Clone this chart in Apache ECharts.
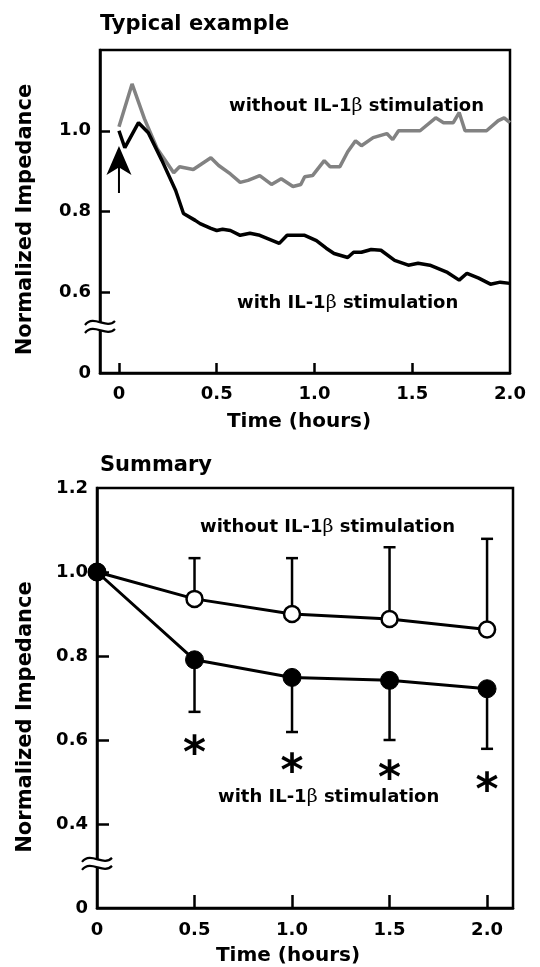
<!DOCTYPE html>
<html><head><meta charset="utf-8">
<script src="https://cdn.jsdelivr.net/npm/echarts@6/dist/echarts.min.js"></script>
<style>html,body{margin:0;padding:0;background:#fff}#c{width:540px;height:967px}</style>
</head><body><div id="c"></div>
<script>
// ---- Typical example (top panel) ----
const typTimeWithout = [0,0.067,0.13,0.195,0.28,0.31,0.38,0.47,0.51,0.57,0.62,0.66,0.72,0.78,0.83,0.89,0.93,0.95,0.99,1.05,1.08,1.13,1.17,1.21,1.24,1.30,1.37,1.40,1.43,1.54,1.62,1.66,1.71,1.74,1.77,1.88,1.94,1.97,2.0];
const typWithout = [1.01,1.116,1.03,0.956,0.896,0.911,0.904,0.933,0.914,0.893,0.872,0.877,0.889,0.867,0.881,0.862,0.867,0.886,0.889,0.926,0.911,0.911,0.948,0.975,0.963,0.983,0.993,0.978,1.0,1.0,1.032,1.02,1.02,1.045,1.0,1.0,1.025,1.032,1.02];
const typTimeWith = [0,0.03,0.10,0.15,0.22,0.29,0.33,0.39,0.415,0.47,0.50,0.53,0.57,0.62,0.67,0.72,0.77,0.82,0.86,0.95,1.01,1.06,1.10,1.17,1.20,1.24,1.29,1.34,1.41,1.48,1.53,1.59,1.68,1.74,1.78,1.84,1.90,1.95,2.0];
const typWith = [1.0,0.958,1.02,0.995,0.926,0.852,0.795,0.778,0.77,0.758,0.753,0.756,0.753,0.741,0.746,0.741,0.731,0.721,0.741,0.741,0.728,0.709,0.696,0.686,0.699,0.699,0.706,0.704,0.679,0.667,0.672,0.667,0.649,0.630,0.647,0.635,0.620,0.625,0.622];
const stimTime = [0];        // IL-1beta added (arrow)
const stimArrowPos = [0.904];

// ---- Summary (bottom panel) ----
const sumTime = [0,0.5,1.0,1.5,2.0];
const sumWithout = [1.0,0.936,0.900,0.888,0.863];
const sumWithoutErr = [0,0.097,0.133,0.171,0.216];
const sumWith = [1.0,0.791,0.749,0.742,0.722];
const sumWithErr = [0,0.124,0.130,0.142,0.143];
const sigTime = [0.5,1.0,1.5,2.0];
const sigPos = [0.591,0.548,0.532,0.503];

// ---- tick labels ----
const xTickVals = [0,0.5,1.0,1.5,2.0];
const topXTicks = [0,0.5,1.0,1.5];
const sumXTicks = [0.5,1.0,1.5,2.0];
const topYTickVals = [0.4,0.6,0.8,1.0];   // 0.4 position labelled "0" (broken axis)
const topYTicks = [0.6,0.8,1.0];
const sumYTickVals = [0.2,0.4,0.6,0.8,1.0,1.2]; // 0.2 position labelled "0" (broken axis)
const sumYTicks = [0.4,0.6,0.8,1.0];

const F = '"DejaVu Sans", sans-serif';
const zip = (a,b) => a.map((v,i)=>[v,b[i]]);
const xFmt = v => Math.abs(v) < 1e-9 ? '0' : v.toFixed(1);
const labelStyle = {color:'#000', fontFamily:F, fontWeight:'bold', fontSize:18};
const axLine = {show:true, onZero:false, lineStyle:{color:'#000', width:2.5}};
const tickLine = {color:'#000', width:2.5};

const chart = echarts.init(document.getElementById('c'), null, {renderer:'canvas'});

function errItem(params, api){
  const x = api.value(0), m = api.value(1), e = api.value(2), d = api.value(3);
  if (!(e > 0)) return;
  const p0 = api.coord([x, m]);
  const p1 = api.coord([x, m + d*e]);
  return {type:'group', children:[
    {type:'line', shape:{x1:p0[0],y1:p0[1],x2:p1[0],y2:p1[1]}, style:{stroke:'#000', lineWidth:2.5}},
    {type:'line', shape:{x1:p1[0]-6,y1:p1[1],x2:p1[0]+6,y2:p1[1]}, style:{stroke:'#000', lineWidth:2.5}}
  ]};
}
const errData = sumTime.map((t,i)=>[t,sumWithout[i],sumWithoutErr[i],1])
  .concat(sumTime.map((t,i)=>[t,sumWith[i],sumWithErr[i],-1]));

const yNameStyle = {color:'#000', fontFamily:F, fontWeight:'bold', fontSize:21};
const xNameStyle = {color:'#000', fontFamily:F, fontWeight:'bold', fontSize:20};

chart.setOption({
  animation:false,
  backgroundColor:'#fff',
  grid:[
    {left:100, top:50, width:410, height:323, show:true, borderColor:'#000', borderWidth:2.5, backgroundColor:'transparent'},
    {left:97, top:488, width:416, height:422, show:true, borderColor:'#000', borderWidth:2.5, backgroundColor:'transparent'}
  ],
  xAxis:[
    {type:'value', gridIndex:0, min:-0.097, max:2.0, splitLine:{show:false}, axisLine:axLine,
     axisTick:{show:true, inside:true, length:10, customValues:topXTicks, lineStyle:tickLine},
     axisLabel:Object.assign({customValues:xTickVals, formatter:xFmt, margin:12}, labelStyle),
     name:'Time (hours)', nameLocation:'middle', nameGap:39, nameTextStyle:Object.assign({padding:[0,12,0,0]}, xNameStyle)},
    {type:'value', gridIndex:1, min:0, max:2.133, splitLine:{show:false}, axisLine:axLine,
     axisTick:{show:true, inside:true, length:13, customValues:sumXTicks, lineStyle:tickLine},
     axisLabel:Object.assign({customValues:xTickVals, formatter:xFmt, margin:13}, labelStyle),
     name:'Time (hours)', nameLocation:'middle', nameGap:38, nameTextStyle:Object.assign({padding:[0,34,0,0]}, xNameStyle)}
  ],
  yAxis:[
    {type:'value', gridIndex:0, min:0.4, max:1.2, splitLine:{show:false}, axisLine:axLine,
     axisTick:{show:true, inside:true, length:10, customValues:topYTicks, lineStyle:tickLine},
     axisLabel:Object.assign({customValues:topYTickVals, formatter:v=>Math.abs(v-0.4)<1e-6?'0':v.toFixed(1), margin:9}, labelStyle),
     name:'Normalized Impedance', nameLocation:'middle', nameGap:64, nameTextStyle:Object.assign({padding:[0,16,0,0]}, yNameStyle)},
    {type:'value', gridIndex:1, min:0.2, max:1.2, splitLine:{show:false}, axisLine:axLine,
     axisTick:{show:true, inside:true, length:12, customValues:sumYTicks, lineStyle:tickLine},
     axisLabel:Object.assign({customValues:sumYTickVals, formatter:v=>Math.abs(v-0.2)<1e-6?'0':v.toFixed(1), margin:9}, labelStyle),
     name:'Normalized Impedance', nameLocation:'middle', nameGap:61, nameTextStyle:Object.assign({padding:[0,38,0,0]}, yNameStyle)}
  ],
  series:[
    {name:'without IL-1β (typical)', type:'line', xAxisIndex:0, yAxisIndex:0, data:zip(typTimeWithout,typWithout),
     showSymbol:false, symbol:'none', lineStyle:{color:'#828282', width:3.5}, z:3},
    {name:'with IL-1β (typical)', type:'line', xAxisIndex:0, yAxisIndex:0, data:zip(typTimeWith,typWith),
     showSymbol:false, symbol:'none', lineStyle:{color:'#000', width:3.5}, z:4},
    {name:'stimulation', type:'scatter', xAxisIndex:0, yAxisIndex:0, data:zip(stimTime,stimArrowPos),
     symbol:'path://M12.5 0 L25 29 L13.5 22 L13.5 47 L11.5 47 L11.5 22 L0 29 Z', symbolSize:[25,47],
     itemStyle:{color:'#000', opacity:1}, z:5},
    {name:'error bars', type:'custom', xAxisIndex:1, yAxisIndex:1, renderItem:errItem, data:errData, z:2},
    {name:'without IL-1β', type:'line', xAxisIndex:1, yAxisIndex:1, data:zip(sumTime,sumWithout),
     symbol:'circle', symbolSize:16, lineStyle:{color:'#000', width:3},
     itemStyle:{color:'#fff', borderColor:'#000', borderWidth:2.5}, z:3},
    {name:'with IL-1β', type:'line', xAxisIndex:1, yAxisIndex:1, data:zip(sumTime,sumWith),
     symbol:'circle', symbolSize:18, lineStyle:{color:'#000', width:3},
     itemStyle:{color:'#000', borderColor:'#000', borderWidth:1}, z:4},
    {name:'significance', type:'scatter', xAxisIndex:1, yAxisIndex:1, data:zip(sigTime,sigPos),
     symbolSize:1, itemStyle:{color:'rgba(0,0,0,0)', opacity:1},
     label:{show:true, position:'inside', formatter:'*', color:'#000', opacity:1, fontFamily:F, fontWeight:'bold', fontSize:44, offset:[0,12]}, z:5}
  ]
});

// broken-axis marks, titles and annotations
function brk(gridIdx, xv, yv){
  const p = chart.convertToPixel({gridIndex:gridIdx}, [xv, yv]);
  const x = p[0], y = p[1];
  const wave = dy => ({type:'bezierCurve', silent:true, z:100,
    shape:{x1:x-15,y1:y+dy+2, x2:x+15,y2:y+dy-2, cpx1:x-6,cpy1:y+dy-9, cpx2:x+6,cpy2:y+dy+7},
    style:{stroke:'#000', lineWidth:2.2, fill:null}});
  return [
    {type:'rect', silent:true, z:99, shape:{x:x-4, y:y-4, width:8, height:8}, style:{fill:'#fff'}},
    wave(-4), wave(4)
  ];
}
const ann = (x, y, pre) => ({type:'text', x:x, y:y, z:50, silent:true,
  style:{text:'{a|'+pre+'IL-1}{b|β}{a| stimulation}', verticalAlign:'middle',
    rich:{a:{fontFamily:F, fontWeight:'bold', fontSize:18, fill:'#000'},
          b:{fontFamily:'"DejaVu Serif", serif', fontSize:19, fill:'#000'}}}});
const title = (x, y, t) => ({type:'text', x:x, y:y, silent:true,
  style:{text:t, fontFamily:F, fontWeight:'bold', fontSize:21, fill:'#000', verticalAlign:'middle'}});

chart.setOption({graphic:[]
  .concat(brk(0, -0.097, 0.514))
  .concat(brk(1, 0, 0.305))
  .concat([
    title(100, 25, 'Typical example'),
    title(100, 466, 'Summary'),
    ann(229, 106, 'without '),
    ann(237, 303, 'with '),
    ann(200, 527, 'without '),
    ann(218, 797, 'with ')
  ])});
</script></body></html>
